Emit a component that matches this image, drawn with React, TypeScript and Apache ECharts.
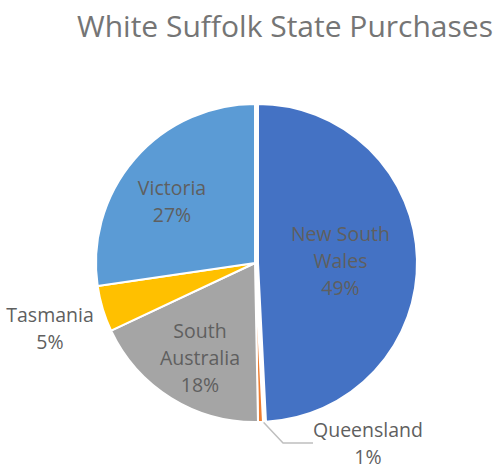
import React, { useEffect, useRef } from "react";
import * as echarts from "echarts";

const categories = ["New South Wales", "Queensland", "South Australia", "Tasmania", "Victoria"];
const labelTexts = ["New South\nWales", "Queensland", "South\nAustralia", "Tasmania", "Victoria"];
const values = [49.2, 0.5, 18.3, 4.7, 27.3];
const colors = ["#4472C4", "#ED7D31", "#A5A5A5", "#FFC000", "#5B9BD5"];
const titleText = "White Suffolk State Purchases";

// label anchor positions (centre of each label block)
const labelPos: [number, number][] = [
  [354, 278],
  [368, 443],
  [200, 357],
  [50, 328],
  [172, 201],
];

export default function App() {
  const ref = useRef<HTMLDivElement>(null);
  useEffect(() => {
    document.body.style.margin = "0";
    const chart = echarts.init(ref.current!, undefined, { renderer: "svg" });
    chart.setOption({
      animation: false,
      backgroundColor: "#ffffff",
      title: {
        text: titleText,
        left: 72,
        top: 5,
        textStyle: {
          fontFamily: "Open Sans",
          fontSize: 30,
          fontWeight: "normal",
          color: "#757575",
        },
      },
      series: [
        {
          type: "pie",
          center: [255, 263],
          radius: 159,
          startAngle: 90,
          clockwise: true,
          selectedMode: "single",
          selectedOffset: 3,
          percentPrecision: 0,
          itemStyle: { borderColor: "#ffffff", borderWidth: 2 },
          select: { itemStyle: { borderColor: "#ffffff", borderWidth: 2 } },
          emphasis: { disabled: true },
          label: {
            show: true,
            position: "inside",
            fontFamily: "Open Sans",
            fontSize: 19.5,
            lineHeight: 27,
            color: "#5f5f5f",
            align: "center",
            formatter: (p: any) => labelTexts[p.dataIndex] + "\n" + Math.round(p.percent) + "%",
          },
          labelLine: { show: false },
          labelLayout: (p: any) => {
            const i = p.dataIndex;
            const out: any = {
              x: labelPos[i][0],
              y: labelPos[i][1],
              align: "center",
              verticalAlign: "middle",
            };
            if (i === 1) {
              out.labelLinePoints = [
                [258, 423],
                [295, 436],
                [309, 436],
              ];
            }
            return out;
          },
          data: categories.map((name, i) => ({
            name,
            value: values[i],
            selected: i === 0,
            itemStyle: { color: colors[i] },
            labelLine:
              i === 1
                ? { show: true, lineStyle: { color: "#BFBFBF", width: 1.5 } }
                : { show: false },
          })),
        },
      ],
    });
    return () => chart.dispose();
  }, []);
  return <div ref={ref} style={{ width: 500, height: 469 }} />;
}
